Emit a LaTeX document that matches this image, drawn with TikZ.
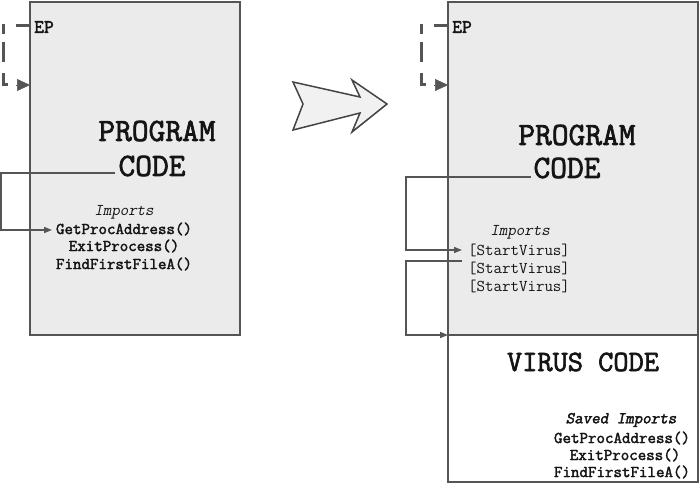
\documentclass[tikz,border=0pt]{standalone}
\usepackage{fontspec}
\setmonofont{Latin Modern Mono}[AutoFakeBold=2.2,AutoFakeSlant=0.2]
\usetikzlibrary{arrows.meta}
\definecolor{boxfill}{HTML}{EBEBEB}
\definecolor{edge}{HTML}{555555}
\definecolor{ink}{HTML}{141414}
\begin{document}
\begin{tikzpicture}[x=1pt,y=-1pt,
  box/.style={draw=edge,line width=1.6pt,inner sep=0pt,outer sep=0pt,anchor=north west},
  big/.style={text=ink,font=\ttfamily\bfseries\fontsize{32.5}{34}\selectfont,inner sep=0pt},
  vbig/.style={text=ink,font=\ttfamily\bfseries\fontsize{29.5}{31}\selectfont,inner sep=0pt},
  ep/.style={text=ink,font=\ttfamily\bfseries\fontsize{19}{21}\selectfont,inner sep=0pt,anchor=west},
  small/.style={text=ink,font=\ttfamily\bfseries\fontsize{16.5}{18}\selectfont,inner sep=0pt},
  smallreg/.style={text=ink,font=\ttfamily\fontsize{16.5}{18}\selectfont,inner sep=0pt},
  smallit/.style={text=ink,font=\ttfamily\itshape\fontsize{16.5}{18}\selectfont,inner sep=0pt},
  conn/.style={draw=edge,line width=1.5pt,-{Triangle[length=8pt,width=6pt]}},
  dashline/.style={draw=edge,line width=3pt,dash pattern=on 14pt off 11pt on 10pt off 8pt on 20pt off 11pt on 20pt off 20pt},
  tiponly/.style={draw=edge,line width=0.5pt,-{Triangle[length=13pt,width=12pt]}},
  bigarrow/.style={draw=edge!80!black,line width=1.5pt,fill=boxfill!70!white,line join=miter}
]
\useasboundingbox (0,0) rectangle (700,484);

% boxes
\node[box,fill=boxfill,minimum width=210pt,minimum height=333pt] (L) at (30,2) {};
\node[box,fill=boxfill,minimum width=250pt,minimum height=333pt] (R) at (448,2) {};
\node[box,fill=white,minimum width=250pt,minimum height=147pt] (V) at (448,335) {};

% left texts
\node[ep] (epL) at (34,27) {EP};
\node[big] (progL) at (157,131) {PROGRAM};
\node[big] (codeL) at (152,166) {CODE};
\node[smallit] (impL) at (124,212) {Imports};
\node[small] (gpaL) at (124,229) {GetProcAddress()};
\node[small] (epcL) at (124,246) {ExitProcess()};
\node[small] (fffL) at (124,264) {FindFirstFileA()};

% left dashed EP loop
\coordinate (dL0) at (30,26);
\coordinate (dL1) at (8,85);
\coordinate (tL0) at (16,85);
\coordinate (tL1) at (30,85);
\draw[dashline] (dL0) -- (3,26) -- (3,85) -- (dL1);
\draw[tiponly] (tL0) -- (tL1);

% left connector
\coordinate (cL0) at (115,173);
\coordinate (cL1) at (52,230);
\draw[conn] (cL0) -- (1,173) -- (1,230) -- (cL1);

% big arrow
\draw[bigarrow] (293,82) -- (360,97) -- (352,80) -- (387,104) -- (352,132) -- (360,113) -- (293,130) -- (303,104) -- cycle;

% right texts
\node[ep] (epR) at (452,27) {EP};
\node[big] (progR) at (577,135) {PROGRAM};
\node[big] (codeR) at (567,168) {CODE};
\node[smallit] (impR) at (520,232) {Imports};
\node[smallreg] (sv1) at (519,250) {[StartVirus]};
\node[smallreg] (sv2) at (519,268) {[StartVirus]};
\node[smallreg] (sv3) at (519,286) {[StartVirus]};

\node[vbig] (virus) at (583,362) {VIRUS CODE};
\node[smallit,font=\ttfamily\bfseries\itshape\fontsize{16.5}{18}\selectfont] (simp) at (621,420) {Saved Imports};
\node[small] (gpaR) at (622,438) {GetProcAddress()};
\node[small] (epcR) at (625,455) {ExitProcess()};
\node[small] (fffR) at (622,472) {FindFirstFileA()};

% right dashed EP loop
\coordinate (dR0) at (448,26);
\coordinate (dR1) at (426,85);
\coordinate (tR0) at (434,85);
\coordinate (tR1) at (448,85);
\draw[dashline] (dR0) -- (421,26) -- (421,85) -- (dR1);
\draw[tiponly] (tR0) -- (tR1);

% right connectors
\coordinate (cR0) at (531,177);
\coordinate (cR1) at (462,250);
\draw[conn] (cR0) -- (406,177) -- (406,250) -- (cR1);
\coordinate (cR2) at (462,261);
\coordinate (cR3) at (448,335);
\draw[conn] (cR2) -- (406,261) -- (406,335) -- (cR3);
\end{tikzpicture}
\end{document}
